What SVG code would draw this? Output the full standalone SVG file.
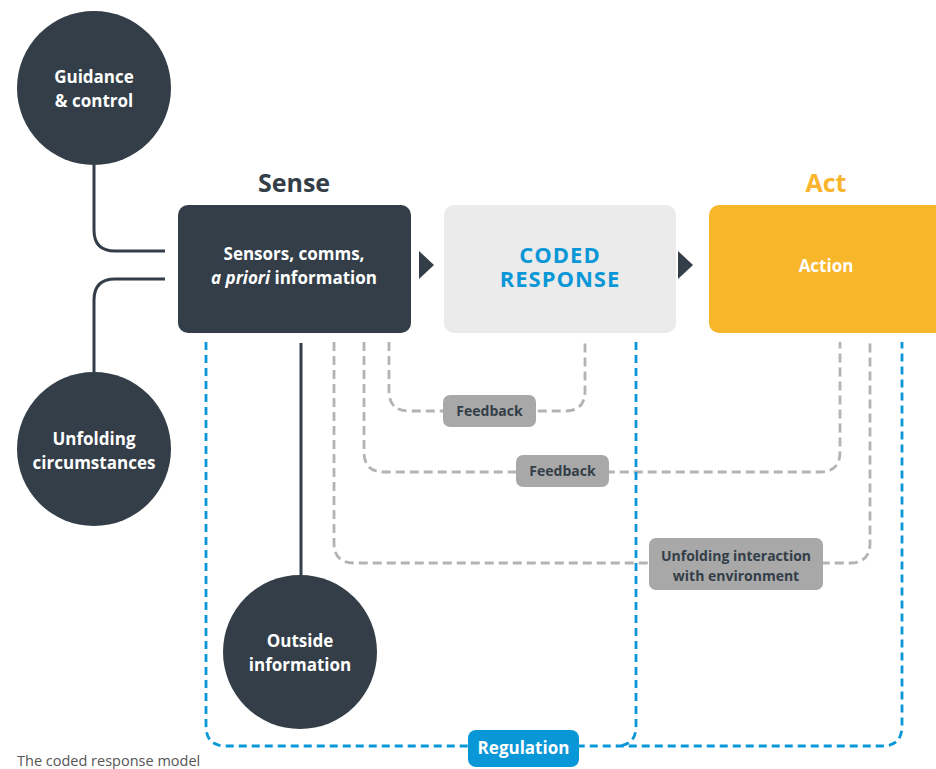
<svg xmlns="http://www.w3.org/2000/svg" width="936" height="769" viewBox="0 0 936 769">
<style>
text{font-family:"Open Sans","Noto Sans","Liberation Sans",sans-serif;font-weight:700;text-anchor:middle}
.w{fill:#ffffff;font-size:17px}
.dark{fill:#333e48}
.solid{fill:none;stroke:#333e48;stroke-width:3}
.gd{fill:none;stroke:#b3b3b3;stroke-width:2.8;stroke-dasharray:9 5}
.bd{fill:none;stroke:#0a97d7;stroke-width:2.8;stroke-dasharray:8 5}
.lab{fill:#a8a8a8}
.lt{fill:#333e48;font-size:14px}
.cap{font-weight:400;fill:#555555;font-size:14.5px;text-anchor:start}
</style>
<rect width="936" height="769" fill="#ffffff"/>
<g id="connectors">
<path class="solid" d="M94,165 V230 Q94,251 115,251 H165"/>
<path class="solid" d="M165,279 H115 Q94,279 94,300 V372"/>
<path class="solid" d="M301,343 V576"/>
<path class="gd" d="M389,342 V391 Q389,411 409,411 H565 Q585,411 585,391 V342"/>
<path class="gd" d="M364,342 V452 Q364,472 384,472 H820 Q840,472 840,452 V342"/>
<path class="gd" d="M334,342 V543 Q334,563 354,563 H850 Q870,563 870,543 V342"/>
<path class="bd" d="M206,342 V726 Q206,746 226,746 H882 Q902,746 902,726 V342"/>
<path class="bd" d="M636,342 V726 Q636,746 616,746"/>
<polygon fill="#333e48" points="419,251 434,265 419,279"/>
<polygon fill="#333e48" points="678,251 693,265 678,279"/>
</g>
<g id="guidance">
<circle cx="94" cy="88" r="77" fill="#333e48"/>
<text class="w" x="94" y="83">Guidance</text>
<text class="w" x="94" y="107">&amp; control</text>
</g>
<g id="unfolding">
<circle cx="94" cy="449" r="77" fill="#333e48"/>
<text class="w" x="94" y="445">Unfolding</text>
<text class="w" x="94" y="469">circumstances</text>
</g>
<g id="sense">
<text class="dark" x="294" y="192" font-size="25">Sense</text>
<rect x="178" y="205" width="233" height="128" rx="10" fill="#333e48"/>
<text class="w" x="294" y="260">Sensors, comms,</text>
<text class="w" x="294" y="284"><tspan font-style="italic">a priori</tspan> information</text>
</g>
<g id="coded">
<rect x="444" y="205" width="232" height="128" rx="10" fill="#ebebeb"/>
<text font-size="22" letter-spacing="1" fill="#0a97d7"><tspan x="560" y="263">CODED</tspan><tspan x="560" y="287">RESPONSE</tspan></text>
</g>
<g id="act">
<text x="826" y="192" font-size="25" fill="#f8b42a">Act</text>
<rect x="709" y="205" width="240" height="128" rx="10" fill="#f8b62b"/>
<text class="w" x="826" y="272">Action</text>
</g>
<g id="outside">
<circle cx="300" cy="652" r="77" fill="#333e48"/>
<text class="w" x="300" y="647">Outside</text>
<text class="w" x="300" y="671">information</text>
</g>
<g id="feedback1">
<rect class="lab" x="443" y="395" width="93" height="32" rx="7"/>
<text class="lt" x="489.5" y="416">Feedback</text>
</g>
<g id="feedback2">
<rect class="lab" x="516" y="455" width="93" height="32" rx="7"/>
<text class="lt" x="562.5" y="476">Feedback</text>
</g>
<g id="interaction">
<rect class="lab" x="649" y="538" width="174" height="52" rx="7"/>
<text class="lt" x="736" y="561">Unfolding interaction</text>
<text class="lt" x="736" y="581">with environment</text>
</g>
<g id="regulation">
<rect x="468" y="730" width="111" height="37" rx="8" fill="#0a97d7"/>
<text class="w" x="523.5" y="754">Regulation</text>
</g>
<text class="cap" x="17" y="766">The coded response model</text>
</svg>
